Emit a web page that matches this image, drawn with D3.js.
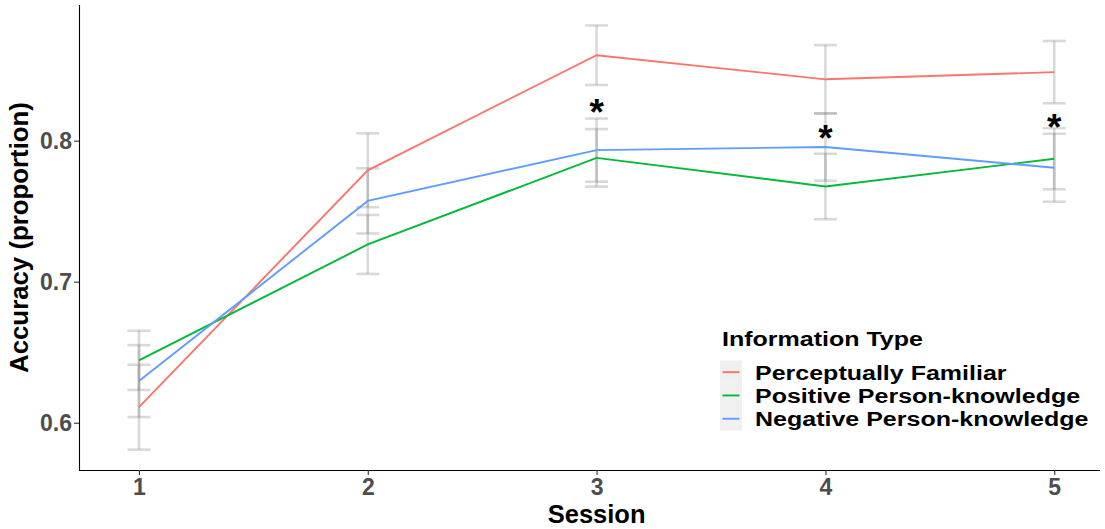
<!DOCTYPE html>
<html>
<head>
<meta charset="utf-8">
<script src="https://cdn.jsdelivr.net/npm/d3@7/dist/d3.min.js"></script>
<style>
  html, body { margin: 0; padding: 0; background: #fff; }
  svg { display: block; font-family: "Liberation Sans", Arial, sans-serif; }
</style>
</head>
<body>
<svg id="chart" width="1105" height="529"></svg>
<script>
// Sessions on the x axis
const sessions = [1, 2, 3, 4, 5];

// Series names and colours
const seriesNames = ["Perceptually Familiar", "Positive Person-knowledge", "Negative Person-knowledge"];
const seriesColors = ["#F8766D", "#00BA38", "#619CFF"];

// Mean accuracy per session
const perceptuallyFamiliar = [0.611, 0.779, 0.8606, 0.8435, 0.8486];
const positiveKnowledge    = [0.6442, 0.7264, 0.7878, 0.7675, 0.7872];
const negativeKnowledge    = [0.6295, 0.7573, 0.7933, 0.7955, 0.7808];

// Standard errors per session
const perceptuallyFamiliarSE = [0.0301, 0.0262, 0.0211, 0.0243, 0.0221];
const positiveKnowledgeSE    = [0.0210, 0.0209, 0.0204, 0.0232, 0.0217];
const negativeKnowledgeSE    = [0.0255, 0.0231, 0.0224, 0.0239, 0.0241];

// Significance markers (vertical centre of each asterisk)
const starSessions = [3, 4, 5];
const starValues   = [0.8265, 0.8076, 0.8159];

// Axis ticks
const yTicks = [0.6, 0.7, 0.8];

const series = [
  { name: seriesNames[0], color: seriesColors[0], mean: perceptuallyFamiliar, se: perceptuallyFamiliarSE },
  { name: seriesNames[1], color: seriesColors[1], mean: positiveKnowledge,    se: positiveKnowledgeSE },
  { name: seriesNames[2], color: seriesColors[2], mean: negativeKnowledge,    se: negativeKnowledgeSE }
];

const svg = d3.select("#chart");
const panel = { left: 79, right: 1100, top: 5, bottom: 470 };

const x = d3.scaleLinear().domain([0.738, 5.2]).range([panel.left, panel.right]);
const y = d3.scaleLinear().domain([0.56647, 0.8962]).range([panel.bottom, panel.top]);

// Error bars (translucent grey, darker where they overlap)
const capHalf = 11.5;
const ebGroup = svg.append("g").attr("stroke", "#808080").attr("stroke-opacity", 0.3)
  .attr("stroke-width", 2.6).attr("fill", "none");
series.forEach(s => {
  sessions.forEach((sess, i) => {
    const lo = s.mean[i] - s.se[i], hi = s.mean[i] + s.se[i];
    const g = ebGroup.append("g");
    g.append("line").attr("x1", x(sess)).attr("x2", x(sess)).attr("y1", y(lo)).attr("y2", y(hi));
    g.append("line").attr("x1", x(sess) - capHalf).attr("x2", x(sess) + capHalf).attr("y1", y(lo)).attr("y2", y(lo));
    g.append("line").attr("x1", x(sess) - capHalf).attr("x2", x(sess) + capHalf).attr("y1", y(hi)).attr("y2", y(hi));
  });
});

// Mean lines
const line = d3.line().x((d, i) => x(sessions[i])).y(d => y(d));
series.forEach(s => {
  svg.append("path").datum(s.mean).attr("d", line)
    .attr("fill", "none").attr("stroke", s.color).attr("stroke-width", 1.9);
});

// Asterisks, centred on their value
const starSize = 37;
starSessions.forEach((sess, i) => {
  svg.append("text").attr("x", x(sess)).attr("y", y(starValues[i]) + starSize * 0.575)
    .attr("text-anchor", "middle").attr("font-size", starSize).attr("font-weight", "bold")
    .attr("fill", "#000").text("*");
});

// Axes
const xAxis = svg.append("g").attr("transform", `translate(0,${panel.bottom})`)
  .call(d3.axisBottom(x).tickValues(sessions).tickFormat(d3.format("d")).tickSize(5).tickSizeOuter(0));
const yAxis = svg.append("g").attr("transform", `translate(${panel.left},0)`)
  .call(d3.axisLeft(y).tickValues(yTicks).tickFormat(d3.format(".1f")).tickSize(5).tickSizeOuter(0));

[xAxis, yAxis].forEach(a => {
  a.select(".domain").attr("stroke", "#000").attr("stroke-width", 1.1);
  a.selectAll(".tick line").attr("stroke", "#333").attr("stroke-width", 1.1);
  a.selectAll(".tick text").attr("fill", "#4d4d4d").attr("font-size", 23)
    .attr("font-weight", "bold").attr("font-family", "'Liberation Sans', Arial, sans-serif");
});
xAxis.selectAll(".tick text").attr("dy", null).attr("y", 25);
yAxis.selectAll(".tick text").attr("x", -7).attr("dy", "0.36em");
xAxis.select(".domain").attr("d", `M${panel.left},0.5H${panel.right}`);
yAxis.select(".domain").attr("d", `M0.5,${panel.bottom}V${panel.top}`);

// Axis titles
svg.append("text").attr("x", x(3)).attr("y", 523).attr("text-anchor", "middle")
  .attr("font-size", 25.5).attr("font-weight", "bold").attr("fill", "#000").text("Session");
svg.append("text").attr("transform", `translate(28,${(panel.top + panel.bottom) / 2}) rotate(-90)`)
  .attr("text-anchor", "middle").attr("font-size", 25.8).attr("font-weight", "bold")
  .attr("fill", "#000").text("Accuracy (proportion)");

// Legend (text slightly widened)
const legend = svg.append("g").attr("transform", "translate(720,0)");
const wide = 1.22;
legend.append("text").attr("transform", `translate(2,346) scale(${wide},1)`).attr("font-size", 20.5)
  .attr("font-weight", "bold").attr("fill", "#000").text("Information Type");
const keyH = 23.3, keyTop = 360.5;
series.forEach((s, i) => {
  const cy = keyTop + keyH * (i + 0.5);
  legend.append("rect").attr("x", 0).attr("y", keyTop + keyH * i).attr("width", 22).attr("height", keyH)
    .attr("fill", "#f0f0f0");
  legend.append("line").attr("x1", 2.5).attr("x2", 19.5).attr("y1", cy).attr("y2", cy)
    .attr("stroke", s.color).attr("stroke-width", 1.9);
  legend.append("text").attr("transform", `translate(35,${cy}) scale(${wide},1)`).attr("dy", "0.36em")
    .attr("font-size", 20.5).attr("font-weight", "bold").attr("fill", "#000").text(s.name);
});
</script>
</body>
</html>
